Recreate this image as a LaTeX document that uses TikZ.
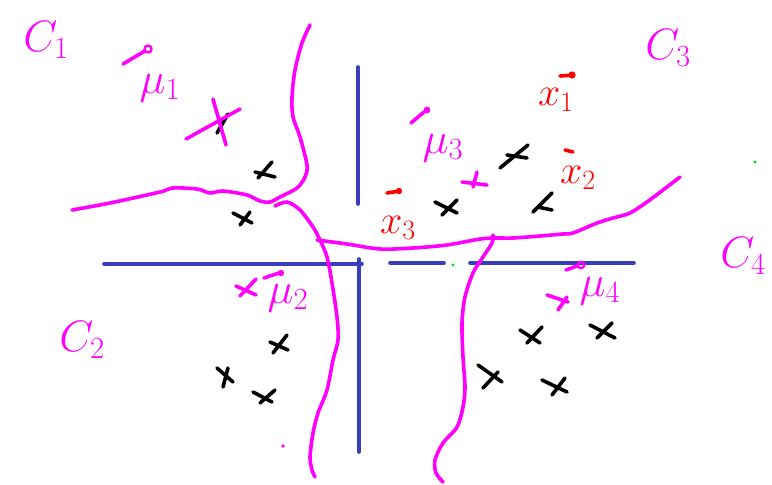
\RequirePackage{fix-cm}
\documentclass[tikz,border=0pt]{standalone}
\begin{document}
\begin{tikzpicture}[x=1pt,y=-1pt,
  pen/.style={line width=3.6pt,line cap=round,line join=round},
  ink/.style={pen,draw=magenta},
  redink/.style={pen,draw=red},
  axis/.style={pen,draw=axisblue,line width=3.6pt},
  pt/.style={pen,draw=black},
  lbl/.style={text=magenta,font=\fontsize{44}{46}\selectfont,inner sep=0pt},
  rlbl/.style={text=red,font=\fontsize{40}{42}\selectfont,inner sep=0pt}]
\definecolor{axisblue}{RGB}{56,62,190}
\definecolor{magenta}{RGB}{255,0,255}
\useasboundingbox (0,0) rectangle (772,485);

% axes
\draw[axis] (104,264) -- (362,264);
\draw[axis] (358,67) -- (358,204);
\draw[axis] (359,259) -- (359,452);
\draw[axis] (390,263) -- (444,263);
\draw[axis] (470,263) -- (634,263);

% stray green points
\fill[green!90!black] (453,265) circle (1.6pt);
\fill[green!90!black] (755,162) circle (1.6pt);

% cluster boundaries
\draw[ink] plot[smooth,tension=0.5] coordinates {(72,210) (110,203) (160,192) (173,188) (197,189) (210,193) (223,191) (247,195) (260,201) (270,202) (280,197) (297,188) (305,177) (307,165) (300,137) (293,117) (292,97) (295,70) (302,43) (310,25)};
\draw[ink] plot[smooth,tension=0.5] coordinates {(275,206) (287,202) (300,210) (313,227) (320,240) (327,257) (332,283) (337,317) (338,340) (333,360) (327,390) (318,413) (313,433) (310,457) (312,470) (315,477)};
\draw[ink] plot[smooth,tension=0.5] coordinates {(317,240) (347,244) (380,249) (413,248) (447,245) (480,239) (497,238) (513,238) (540,236) (563,234) (573,233) (597,223) (613,218) (630,213) (647,202) (663,190) (680,177)};
\draw[ink] plot[smooth,tension=0.5] coordinates {(493,235) (492,243) (483,257) (473,273) (465,297) (462,323) (463,357) (465,387) (463,407) (457,427) (443,443) (435,460) (436,473) (443,482)};

% data points
\draw[pt] (228,114) -- (217,133);
\draw[pt] (272,162) -- (258,178) (255,172) -- (275,177);
\draw[pt] (233,213) -- (252,223) (250,212) -- (240,225);
\draw[pt] (435,202) -- (457,213) (457,200) -- (442,215);
\draw[pt] (500,168) -- (528,145) (507,155) -- (527,158);
\draw[pt] (533,212) -- (552,193) (538,207) -- (552,210);
\draw[pt] (270,342) -- (288,350) (287,335) -- (273,353);
\draw[pt] (217,368) -- (233,382) (228,368) -- (223,387);
\draw[pt] (253,392) -- (272,402) (275,390) -- (260,403);
\draw[pt] (520,330) -- (540,343) (542,327) -- (527,343);
\draw[pt] (590,325) -- (615,338) (612,323) -- (597,338);
\draw[pt] (478,365) -- (502,382) (498,372) -- (483,388);
\draw[pt] (542,380) -- (567,392) (565,378) -- (552,395);

% centroid marks
\draw[ink] (186,139) -- (240,109) (213,99) -- (226,145);
\draw[ink] (462,182) -- (487,185) (477,172) -- (473,187);
\draw[ink] (236,286) -- (256,295) (240,296) -- (256,279);
\draw[ink] (547,295) -- (568,302) (567,297) -- (558,310);
\fill[magenta] (283,446) circle (1.8pt);

% bars over the centroid and mean labels
\draw[ink] (123,64) -- (145,51);
\draw[ink,line width=2.4pt] (148,49) circle (3.5pt);
\draw[ink] (411,123) -- (424,112);
\fill[magenta] (427,110) circle (3.4pt);
\draw[ink] (264,278) -- (279,273);
\fill[magenta] (281,273) circle (3.2pt);
\draw[ink] (566,270) -- (577,266);
\draw[ink,line width=2.4pt] (581,265) circle (3.2pt);
\draw[redink] (560,76) -- (573,75);
\fill[red] (572,75) circle (3.6pt);
\draw[redink] (565,150) -- (573,152);
\draw[redink] (387,193) -- (400,191);
\fill[red] (399,191) circle (3.2pt);

% labels
\node[lbl] (c1) at (46,40) {$C_1$};
\node[lbl] (c2) at (82,340) {$C_2$};
\node[lbl] (c3) at (668,48) {$C_3$};
\node[lbl] (c4) at (743,256) {$C_4$};
\node[lbl] (m1) at (160,88) {$\mu_1$};
\node[lbl] (m2) at (288,298) {$\mu_2$};
\node[lbl] (m3) at (443,148) {$\mu_3$};
\node[lbl] (m4) at (600,291) {$\mu_4$};
\node[rlbl] (x1) at (556,100) {$x_1$};
\node[rlbl] (x2) at (578,178) {$x_2$};
\node[rlbl] (x3) at (398,228) {$x_3$};
\end{tikzpicture}
\end{document}
